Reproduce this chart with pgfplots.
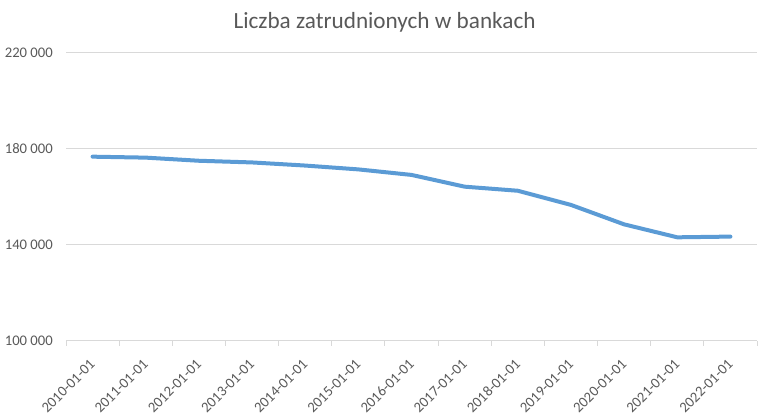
\documentclass[border=0pt]{standalone}
\usepackage{pgfplots}
\pgfplotsset{compat=1.18}
\usepackage{fontspec}
\setmainfont{Carlito}
\definecolor{gridgrey}{HTML}{D9D9D9}
\definecolor{textgrey}{HTML}{595959}
\definecolor{lineblue}{HTML}{5B9BD5}
\begin{document}
\begin{tikzpicture}
\path[use as bounding box] (-49.5pt,-56.25pt) rectangle (528pt,255.75pt);
\begin{axis}[
  at={(0,0)}, anchor=south west,
  scale only axis,
  width=518.25pt, height=216pt,
  xmin=-0.5, xmax=12.5,
  ymin=100000, ymax=220000,
  scaled y ticks=false,
  axis x line=bottom, axis y line=left,
  x axis line style={draw=gridgrey, line width=0.75pt, -},
  y axis line style={draw=none},
  ytick={100000,140000,180000,220000},
  yticklabels={100~000,140~000,180~000,220~000},
  xtick={0,...,12},
  xticklabels={2010-01-01,2011-01-01,2012-01-01,2013-01-01,2014-01-01,2015-01-01,2016-01-01,2017-01-01,2018-01-01,2019-01-01,2020-01-01,2021-01-01,2022-01-01},
  minor xtick={-0.5,0.5,...,12.5},
  major tick length=0pt,
  minor tick length=3.75pt,
  tick align=outside,
  minor tick style={draw=gridgrey, line width=0.75pt},
  ymajorgrids,
  grid style={draw=gridgrey, line width=0.75pt},
  ticklabel style={font=\fontsize{11}{13}\selectfont, text=textgrey},
  yticklabel style={inner sep=0pt, xshift=-9.75pt},
  xticklabel style={rotate=45, anchor=east, inner sep=0pt},
  xticklabel shift=15.5pt,
  clip=false,
]
\addplot[color=lineblue, line width=3pt, line join=round, line cap=round] coordinates {
  (0,176800) (1,176400) (2,175100) (3,174400) (4,173100) (5,171500)
  (6,169200) (7,164300) (8,162600) (9,156700) (10,148600) (11,143200) (12,143500)
};
\end{axis}
\node[anchor=base, text=textgrey, font=\fontsize{17.4}{20}\selectfont] at (238.9pt,234.5pt) {Liczba zatrudnionych w bankach};
\end{tikzpicture}
\end{document}
